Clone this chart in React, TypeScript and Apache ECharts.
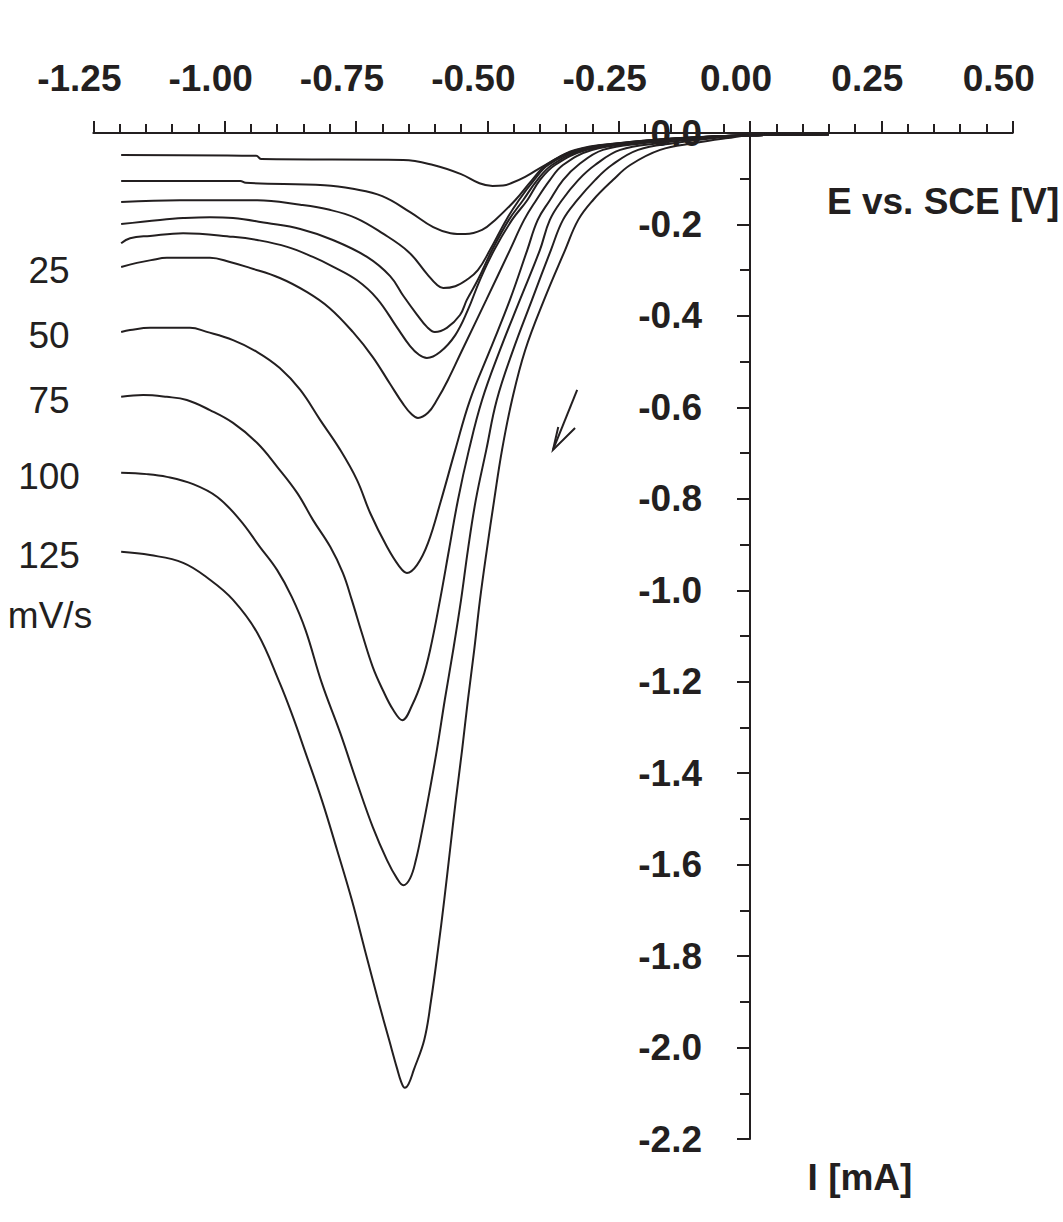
import React, { useEffect, useRef } from "react";
import * as echarts from "echarts";

// Potential E vs. SCE [V] (x) and current I [mA] (y), cathodic sweeps, one per scan rate
const c1 = [[-1.197,-0.048],[-0.94,-0.050],[-0.93,-0.057],[-0.66,-0.059],[-0.603,-0.070],[-0.55,-0.090],[-0.515,-0.110],[-0.49,-0.116],[-0.47,-0.115],[-0.455,-0.110],[-0.428,-0.096],[-0.390,-0.070],[-0.333,-0.037],[-0.247,-0.022],[-0.133,-0.011],[0,-0.005],[0.15,-0.003]];
const c2 = [[-1.197,-0.105],[-0.97,-0.105],[-0.96,-0.109],[-0.81,-0.114],[-0.756,-0.122],[-0.70,-0.138],[-0.647,-0.173],[-0.603,-0.206],[-0.570,-0.219],[-0.542,-0.221],[-0.510,-0.212],[-0.485,-0.190],[-0.447,-0.147],[-0.415,-0.103],[-0.388,-0.070],[-0.329,-0.037],[-0.244,-0.022],[-0.129,-0.011],[0,-0.005],[0.15,-0.003]];
const c3 = [[-1.197,-0.151],[-1.085,-0.147],[-0.938,-0.147],[-0.856,-0.157],[-0.80,-0.168],[-0.75,-0.186],[-0.70,-0.219],[-0.65,-0.260],[-0.615,-0.308],[-0.595,-0.333],[-0.584,-0.339],[-0.561,-0.335],[-0.539,-0.321],[-0.518,-0.300],[-0.495,-0.256],[-0.464,-0.190],[-0.440,-0.147],[-0.411,-0.103],[-0.384,-0.070],[-0.324,-0.037],[-0.238,-0.022],[-0.126,-0.011],[0,-0.005],[0.15,-0.003]];
const c4 = [[-1.197,-0.199],[-1.123,-0.190],[-1.079,-0.186],[-1.028,-0.184],[-0.984,-0.186],[-0.919,-0.197],[-0.856,-0.210],[-0.794,-0.234],[-0.729,-0.271],[-0.685,-0.313],[-0.660,-0.356],[-0.634,-0.397],[-0.615,-0.424],[-0.600,-0.435],[-0.577,-0.426],[-0.552,-0.398],[-0.539,-0.365],[-0.518,-0.321],[-0.491,-0.256],[-0.459,-0.190],[-0.432,-0.147],[-0.405,-0.103],[-0.377,-0.070],[-0.318,-0.037],[-0.232,-0.022],[-0.122,-0.011],[0,-0.005],[0.15,-0.003]];
const c5 = [[-1.197,-0.241],[-1.18,-0.230],[-1.142,-0.225],[-1.079,-0.219],[-0.984,-0.227],[-0.938,-0.234],[-0.881,-0.249],[-0.832,-0.271],[-0.794,-0.292],[-0.748,-0.322],[-0.710,-0.362],[-0.672,-0.425],[-0.647,-0.466],[-0.630,-0.485],[-0.615,-0.492],[-0.590,-0.479],[-0.561,-0.442],[-0.537,-0.387],[-0.514,-0.321],[-0.487,-0.256],[-0.453,-0.190],[-0.424,-0.147],[-0.400,-0.103],[-0.371,-0.070],[-0.312,-0.037],[-0.225,-0.022],[-0.118,-0.011],[0,-0.005],[0.15,-0.003]];
const c6 = [[-1.197,-0.293],[-1.167,-0.284],[-1.14,-0.278],[-1.11,-0.273],[-1.028,-0.273],[-0.99,-0.282],[-0.952,-0.295],[-0.895,-0.317],[-0.843,-0.348],[-0.80,-0.383],[-0.756,-0.435],[-0.718,-0.490],[-0.685,-0.549],[-0.660,-0.593],[-0.645,-0.614],[-0.632,-0.623],[-0.613,-0.612],[-0.596,-0.584],[-0.575,-0.540],[-0.548,-0.475],[-0.502,-0.365],[-0.457,-0.256],[-0.430,-0.190],[-0.407,-0.147],[-0.381,-0.103],[-0.356,-0.070],[-0.301,-0.037],[-0.213,-0.022],[-0.114,-0.011],[0,-0.005],[0.15,-0.003]];
const c7 = [[-1.197,-0.435],[-1.18,-0.431],[-1.142,-0.426],[-1.066,-0.426],[-1.034,-0.435],[-0.984,-0.453],[-0.938,-0.479],[-0.895,-0.514],[-0.856,-0.562],[-0.818,-0.628],[-0.780,-0.693],[-0.748,-0.759],[-0.723,-0.831],[-0.691,-0.905],[-0.668,-0.947],[-0.653,-0.962],[-0.634,-0.945],[-0.613,-0.897],[-0.588,-0.803],[-0.561,-0.693],[-0.533,-0.584],[-0.495,-0.475],[-0.457,-0.365],[-0.424,-0.256],[-0.404,-0.190],[-0.381,-0.147],[-0.356,-0.103],[-0.327,-0.070],[-0.280,-0.037],[-0.200,-0.022],[-0.105,-0.011],[0,-0.005],[0.15,-0.003]];
const c8 = [[-1.197,-0.577],[-1.155,-0.573],[-1.11,-0.577],[-1.072,-0.584],[-1.028,-0.606],[-0.984,-0.634],[-0.938,-0.678],[-0.900,-0.730],[-0.862,-0.787],[-0.832,-0.846],[-0.799,-0.905],[-0.775,-0.962],[-0.758,-1.021],[-0.739,-1.093],[-0.718,-1.168],[-0.699,-1.218],[-0.679,-1.262],[-0.662,-1.284],[-0.643,-1.251],[-0.624,-1.196],[-0.609,-1.131],[-0.590,-1.021],[-0.573,-0.912],[-0.556,-0.803],[-0.535,-0.693],[-0.510,-0.584],[-0.476,-0.475],[-0.438,-0.365],[-0.400,-0.256],[-0.381,-0.190],[-0.358,-0.147],[-0.327,-0.103],[-0.295,-0.070],[-0.247,-0.037],[-0.171,-0.022],[-0.086,-0.011],[0,-0.005],[0.15,-0.003]];
const c9 = [[-1.197,-0.743],[-1.148,-0.746],[-1.110,-0.752],[-1.060,-0.768],[-1.014,-0.796],[-0.971,-0.846],[-0.933,-0.905],[-0.900,-0.956],[-0.872,-1.015],[-0.846,-1.087],[-0.815,-1.203],[-0.780,-1.312],[-0.748,-1.421],[-0.718,-1.518],[-0.691,-1.590],[-0.672,-1.630],[-0.660,-1.645],[-0.647,-1.630],[-0.636,-1.590],[-0.624,-1.525],[-0.613,-1.459],[-0.596,-1.349],[-0.581,-1.240],[-0.565,-1.131],[-0.550,-1.021],[-0.537,-0.912],[-0.522,-0.803],[-0.502,-0.693],[-0.482,-0.584],[-0.451,-0.475],[-0.415,-0.365],[-0.379,-0.256],[-0.356,-0.190],[-0.329,-0.147],[-0.295,-0.103],[-0.263,-0.070],[-0.213,-0.037],[-0.143,-0.022],[-0.067,-0.011],[0,-0.005],[0.15,-0.003]];
const c10 = [[-1.197,-0.916],[-1.142,-0.923],[-1.079,-0.940],[-1.028,-0.977],[-0.984,-1.021],[-0.938,-1.093],[-0.895,-1.203],[-0.870,-1.277],[-0.848,-1.349],[-0.815,-1.459],[-0.786,-1.568],[-0.758,-1.677],[-0.733,-1.787],[-0.708,-1.896],[-0.687,-1.983],[-0.672,-2.045],[-0.664,-2.075],[-0.657,-2.088],[-0.650,-2.080],[-0.640,-2.049],[-0.620,-1.983],[-0.607,-1.896],[-0.594,-1.787],[-0.582,-1.677],[-0.571,-1.568],[-0.560,-1.459],[-0.548,-1.349],[-0.537,-1.240],[-0.525,-1.131],[-0.514,-1.021],[-0.501,-0.912],[-0.487,-0.803],[-0.472,-0.693],[-0.453,-0.584],[-0.428,-0.475],[-0.392,-0.365],[-0.352,-0.256],[-0.327,-0.190],[-0.299,-0.147],[-0.261,-0.103],[-0.228,-0.070],[-0.171,-0.037],[-0.105,-0.022],[-0.042,-0.011],[0,-0.005],[0.15,-0.003]];

const curves = [c1, c2, c3, c4, c5, c6, c7, c8, c9, c10];

// Labels for the five largest curves (scan rate), and unit
const rateLabels = ["25", "50", "75", "100", "125"];
const rateCurveIndex = [5, 6, 7, 8, 9];
const rateUnit = "mV/s";

// Axis settings
const xMin = -1.25, xMax = 0.5, xStep = 0.25;
const yMin = -2.2, yMax = 0, yStep = 0.2;
const xTitle = "E vs. SCE [V]";
const yTitle = "I [mA]";

// Sweep-direction arrow (data coordinates): tail, tip, two wing ends
const arrowTail = [-0.329, -0.562];
const arrowTip = [-0.375, -0.693];
const arrowWingA = [-0.365, -0.643];
const arrowWingB = [-0.333, -0.645];

const FONT = '"Liberation Sans", Arial, Helvetica, sans-serif';
const INK = "#231f20";
const W = 1063, H = 1222;
const GRID = { left: 93.3, right: 50.3, top: 133, bottom: 83 };

export default function App() {
  const ref = useRef<HTMLDivElement>(null);
  useEffect(() => {
    const chart = echarts.init(ref.current as HTMLDivElement, null, { renderer: "svg" });
    const axisLabelBase = { color: INK, fontFamily: FONT, fontWeight: "bold", fontSize: 37 };
    const gridW = W - GRID.left - GRID.right;
    const zeroX = GRID.left + ((0 - xMin) / (xMax - xMin)) * gridW;
    chart.setOption({
      animation: false,
      textStyle: { fontFamily: FONT },
      grid: { ...GRID, containLabel: false, outerBoundsMode: "none" },
      xAxis: {
        type: "value",
        position: "top",
        min: xMin,
        max: xMax,
        interval: xStep,
        axisLine: { show: true, onZero: false, lineStyle: { color: INK, width: 2 } },
        axisTick: { show: true, length: 12, lineStyle: { color: INK, width: 2 } },
        minorTick: { show: true, splitNumber: 5, length: 9, lineStyle: { color: INK, width: 2 } },
        splitLine: { show: false },
        minorSplitLine: { show: false },
        axisLabel: {
          ...axisLabelBase,
          margin: 36,
          padding: [0, 28, 0, 0],
          formatter: (v: number) => v.toFixed(2),
          showMinLabel: true,
          showMaxLabel: true,
        },
      },
      yAxis: {
        type: "value",
        position: "left",
        offset: -(zeroX - GRID.left),
        min: yMin,
        max: yMax,
        interval: yStep,
        axisLine: { show: true, onZero: false, lineStyle: { color: INK, width: 2 } },
        axisTick: { show: true, length: 13, lineStyle: { color: INK, width: 2 } },
        minorTick: { show: true, splitNumber: 2, length: 10, lineStyle: { color: INK, width: 2 } },
        splitLine: { show: false },
        minorSplitLine: { show: false },
        axisLabel: {
          ...axisLabelBase,
          margin: 48,
          padding: [4, 0, 0, 0],
          formatter: (v: number) => (Math.abs(v) < 1e-9 ? "0.0" : v.toFixed(1)),
          showMinLabel: true,
          showMaxLabel: true,
        },
      },
      series: curves.map((d, i) => ({
        type: "line",
        name: "curve" + (i + 1),
        data: d,
        symbol: "none",
        showSymbol: false,
        smooth: 0.4,
        silent: true,
        lineStyle: { color: INK, width: 2 },
        z: 3,
      })),
    });

    const px = (p: number[]) => chart.convertToPixel({ gridIndex: 0 }, p) as number[];
    const tail = px(arrowTail), tip = px(arrowTip), wa = px(arrowWingA), wb = px(arrowWingB);
    const graphics: any[] = [];
    const txt = (text: string, x: number, y: number, bold: boolean, align: string) => ({
      type: "text",
      style: {
        text, x, y, fill: INK,
        font: `${bold ? "bold " : ""}37px ${FONT}`,
        align, verticalAlign: "middle",
        textAlign: align, textVerticalAlign: "middle",
      },
    });
    rateLabels.forEach((t, k) => {
      const start = px(curves[rateCurveIndex[k]][0]);
      graphics.push(txt(t, 49, start[1] + 4, false, "center"));
    });
    const lastStart = px(curves[9][0]);
    graphics.push(txt(rateUnit, 50, lastStart[1] + 64, false, "center"));
    graphics.push(txt(xTitle, 827, 201, true, "left"));
    graphics.push(txt(yTitle, 860, 1177, true, "center"));
    graphics.push({
      type: "line",
      shape: { x1: tail[0], y1: tail[1], x2: tip[0], y2: tip[1] },
      style: { stroke: INK, lineWidth: 2 },
    });
    graphics.push({
      type: "polyline",
      shape: { points: [wa, tip, wb] },
      style: { stroke: INK, lineWidth: 2, fill: null },
    });
    chart.setOption({ graphic: graphics });

    return () => chart.dispose();
  }, []);
  return (
    <div
      ref={ref}
      style={{ position: "absolute", left: 0, top: 0, width: W, height: H, background: "#fff" }}
    />
  );
}
